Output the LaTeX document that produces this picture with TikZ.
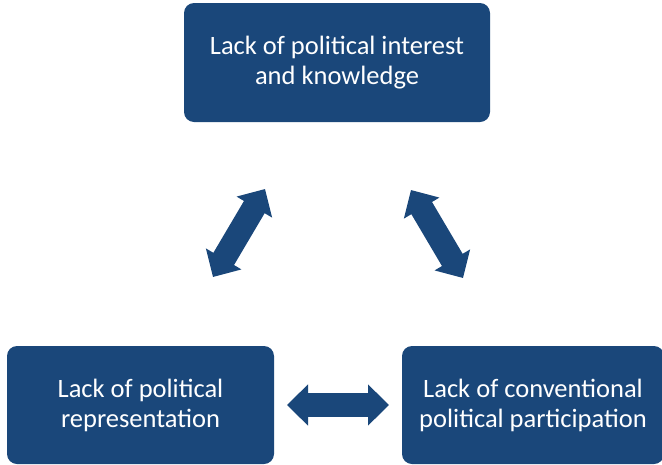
\documentclass[tikz,border=0pt]{standalone}
\usepackage{fontspec}
\setmainfont{Carlito}
\usetikzlibrary{arrows.meta,positioning}
\definecolor{boxblue}{HTML}{1A477A}
\tikzset{
    %Define style for boxes
    factor/.style={
           rectangle,
           rounded corners=10pt,
           fill=boxblue,
           text=white,
           font=\fontsize{26.5}{30}\selectfont,
           align=center,
           inner sep=0pt,
           minimum height=118pt,
           },
    % Define arrow style
    biarrow/.style={
           {Triangle[length=21pt,width=40pt]}-{Triangle[length=21pt,width=40pt]},
           line width=24pt,
           draw=boxblue,},
}
\begin{document}
\begin{tikzpicture}[x=1pt,y=-1pt]
\useasboundingbox (0,0) rectangle (662,464);
\node[factor,minimum width=306pt,minimum height=119pt] (interest) at (337,62.5) {Lack of political interest\\and knowledge};
\node[factor,minimum width=267pt] (repr) at (140.5,405) {Lack of political\\representation};
\node[factor,minimum width=262pt] (partic) at (533,405) {Lack of conventional\\political participation};
% arrow ends
\coordinate (l1) at (213,277);
\coordinate (l2) at (265,189);
\coordinate (r1) at (411,190);
\coordinate (r2) at (463,278);
\coordinate (b1) at (287,405);
\coordinate (b2) at (389,405);
\draw[biarrow] (l1) -- (l2);
\draw[biarrow] (r1) -- (r2);
\draw[biarrow] (b1) -- (b2);
\end{tikzpicture}
\end{document}
